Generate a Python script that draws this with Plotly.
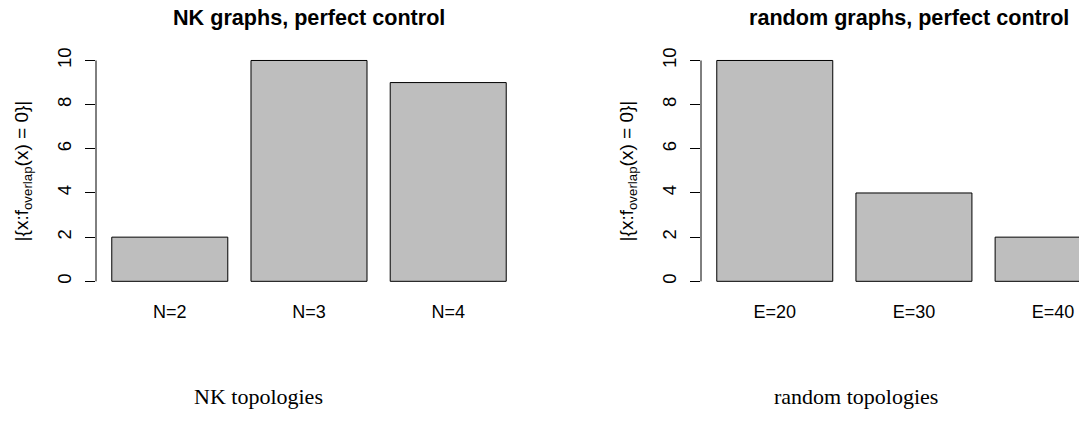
import plotly.graph_objects as go

# Counts of perfectly controlled networks per topology setting
nk_labels = ["N=2", "N=3", "N=4"]
nk_counts = [2, 10, 9]

random_labels = ["E=20", "E=30", "E=40"]
random_counts = [10, 4, 2]

y_ticks = [0, 2, 4, 6, 8, 10]

titles = ["NK graphs, perfect control", "random graphs, perfect control"]
captions = ["NK topologies", "random topologies"]
y_title = "|{x:f<sub>overlap</sub>(x) = 0}|"

W, H = 1079, 421
BAR_FILL = "#BEBEBE"
SANS = "Liberation Sans, Arial, Helvetica, sans-serif"
SERIF = "Liberation Serif, Times New Roman, serif"


def px_x(p):
    return p / W


def px_y(p):
    return 1 - p / H


fig = go.Figure()

fig.add_trace(go.Bar(
    x=nk_labels, y=nk_counts, xaxis="x", yaxis="y",
    marker=dict(color=BAR_FILL, line=dict(color="black", width=1)),
    showlegend=False, hoverinfo="skip",
))
fig.add_trace(go.Bar(
    x=random_labels, y=random_counts, xaxis="x2", yaxis="y2",
    marker=dict(color=BAR_FILL, line=dict(color="black", width=1)),
    showlegend=False, hoverinfo="skip",
))

y_dom = [px_y(288.9), px_y(48.1)]
y_range = [-0.04 * max(y_ticks), max(y_ticks) * 1.04]

common_x = dict(
    type="category", showline=False, showgrid=False, zeroline=False,
    ticks="", tickfont=dict(family=SANS, size=18, color="black"),
    ticklabelstandoff=9, fixedrange=True,
)
common_y = dict(
    range=y_range, tickvals=y_ticks, ticktext=[str(v) for v in y_ticks],
    ticks="outside", ticklen=10, tickwidth=1, tickcolor="black",
    tickangle=-90, showline=False, showgrid=False, zeroline=False,
    tickfont=dict(family=SANS, size=18.5, color="black"),
    ticklabelstandoff=7, fixedrange=True,
)

fig.update_layout(
    width=W, height=H,
    margin=dict(l=0, r=0, t=0, b=0),
    paper_bgcolor="white", plot_bgcolor="white",
    bargap=1 / 6,
    xaxis=dict(domain=[px_x(96), px_x(522)], range=[-0.53, 2.53],
               anchor="y", **common_x),
    yaxis=dict(domain=y_dom, anchor="x", **common_y),
    xaxis2=dict(domain=[px_x(701), 1.0], range=[-0.53, 2.186],
                anchor="y2", **common_x),
    yaxis2=dict(domain=y_dom, anchor="x2", **common_y),
)

# y axis lines spanning only the tick range
for xr, yr in (("x domain", "y"), ("x2 domain", "y2")):
    fig.add_shape(type="line", xref=xr, yref=yr, x0=0, x1=0,
                  y0=min(y_ticks), y1=max(y_ticks),
                  line=dict(color="black", width=1))

panel_centres = [309, 909]
caption_centres = [258, 856]
ytitle_x = [23, 628]

for i in range(2):
    fig.add_annotation(
        text="<b>%s</b>" % titles[i], xref="paper", yref="paper",
        x=px_x(panel_centres[i]), y=px_y(14), xanchor="center", yanchor="middle",
        showarrow=False, font=dict(family=SANS, size=21.6, color="black"),
    )
    fig.add_annotation(
        text=y_title, xref="paper", yref="paper", textangle=-90,
        x=px_x(ytitle_x[i]), y=px_y(169), xanchor="center", yanchor="middle",
        showarrow=False, font=dict(family=SANS, size=19, color="black"),
    )
    fig.add_annotation(
        text=captions[i], xref="paper", yref="paper",
        x=px_x(caption_centres[i]), y=px_y(396), xanchor="center", yanchor="middle",
        showarrow=False, font=dict(family=SERIF, size=22, color="black"),
    )

fig.write_html("out.html")
